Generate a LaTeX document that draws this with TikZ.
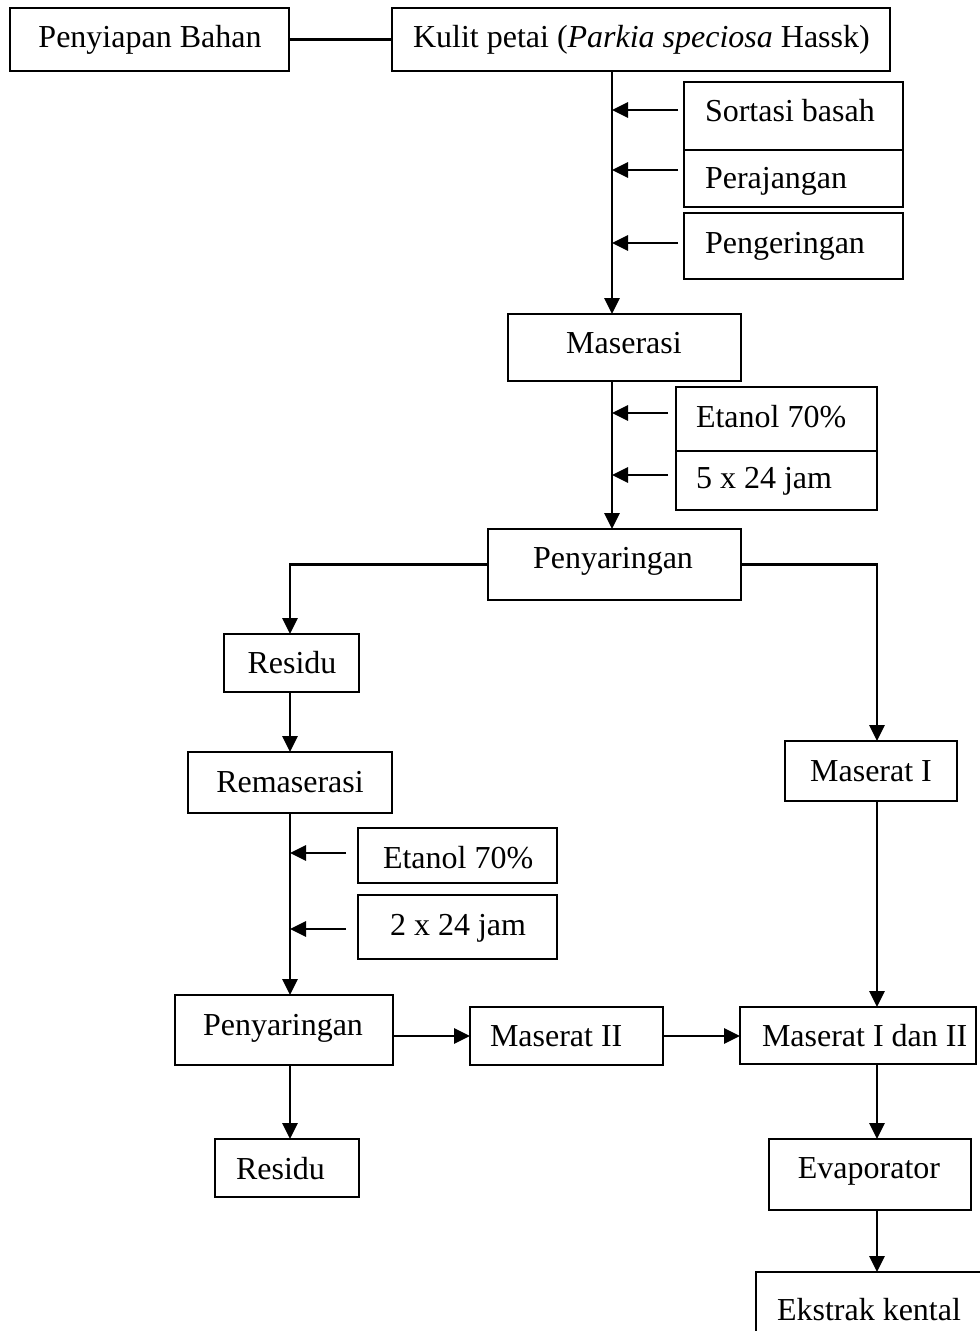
\documentclass[tikz,border=0pt]{standalone}
\usepackage{fontspec}
\setmainfont{Liberation Serif}
\usetikzlibrary{arrows.meta}
\tikzset{
  box/.style={draw, rectangle, line width=1.6pt, inner sep=0pt, outer sep=0pt},
  txt/.style={inner sep=0pt, outer sep=0pt, font=\fontsize{24pt}{28pt}\selectfont},
  conn/.style={line width=1.6pt},
  arr/.style={line width=1.6pt, -{Triangle[length=12pt,width=11.5pt]}}
}
\newcommand{\boxnode}[5]{%
  \node[box, anchor=north west, minimum width={(#4-#2)*0.75pt}, minimum height={(#5-#3)*0.75pt}] (#1) at (#2,#3) {};}
\begin{document}
\begin{tikzpicture}[x=0.75pt, y=-0.75pt]
\path[use as bounding box] (0,0) rectangle (980,1331);
\begin{scope}
\clip (0,0) rectangle (980,1331);
% boxes
\boxnode{pb}{10}{8}{289}{71}
\boxnode{kp}{392}{8}{890}{71}
\boxnode{sb}{684}{82}{903}{150}
\boxnode{pj}{684}{150}{903}{207}
\boxnode{pg}{684}{213}{903}{279}
\boxnode{mas}{508}{314}{741}{381}
\boxnode{etA}{676}{387}{877}{451}
\boxnode{jamA}{676}{451}{877}{510}
\boxnode{pny}{488}{529}{741}{600}
\boxnode{resA}{224}{634}{359}{692}
\boxnode{rem}{188}{752}{392}{813}
\boxnode{mi}{785}{741}{957}{801}
\boxnode{etB}{358}{828}{557}{883}
\boxnode{jamB}{358}{895}{557}{959}
\boxnode{pnyB}{175}{995}{393}{1065}
\boxnode{mii}{470}{1007}{663}{1065}
\boxnode{mboth}{740}{1007}{976}{1064}
\boxnode{resB}{215}{1139}{359}{1197}
\boxnode{evap}{769}{1139}{971}{1210}
\boxnode{ek}{756}{1272}{1000}{1360}
% texts
\node[txt, anchor=base] (tpb) at (150,48) {Penyiapan Bahan};
\node[txt, anchor=base west] (tkp) at (413,48) {Kulit petai (\textit{Parkia speciosa} Hassk)};
\node[txt, anchor=base west] (tsb) at (705,122) {Sortasi basah};
\node[txt, anchor=base west] (tpj) at (705,188) {Perajangan};
\node[txt, anchor=base west] (tpg) at (705,253) {Pengeringan};
\node[txt, anchor=base] (tmas) at (624,353) {Maserasi};
\node[txt, anchor=base west] (tetA) at (696,427) {Etanol 70\%};
\node[txt, anchor=base west] (tjamA) at (696,488) {5 x 24 jam};
\node[txt, anchor=base] (tpny) at (613,568) {Penyaringan};
\node[txt, anchor=base] (tresA) at (292,673) {Residu};
\node[txt, anchor=base] (trem) at (290,792) {Remaserasi};
\node[txt, anchor=base] (tmi) at (871,781) {Maserat I};
\node[txt, anchor=base west] (tetB) at (383,868) {Etanol 70\%};
\node[txt, anchor=base west] (tjamB) at (390,935) {2 x 24 jam};
\node[txt, anchor=base west] (tpnyB) at (203,1035) {Penyaringan};
\node[txt, anchor=base west] (tmii) at (490,1046) {Maserat II};
\node[txt, anchor=base west] (tmboth) at (762,1046) {Maserat I dan II};
\node[txt, anchor=base west] (tresB) at (236,1179) {Residu};
\node[txt, anchor=base] (tevap) at (869,1178) {Evaporator};
\node[txt, anchor=base west] (tek) at (777,1320) {Ekstrak kental};
% guide coordinates
\coordinate (vA) at (612,0);
\coordinate (vB) at (877,0);
\coordinate (vC) at (290,0);
\coordinate (aSb) at (678,110);
\coordinate (aPj) at (678,170);
\coordinate (aPg) at (678,243);
\coordinate (aEtA) at (668,413);
\coordinate (aJamA) at (668,475);
\coordinate (aEtB) at (346,853);
\coordinate (aJamB) at (346,929);
% connectors
\draw[conn] (pb.east) -- (kp.west);
\draw[arr] (kp.south -| vA) -- (mas.north -| vA);
\draw[arr] (aSb) -- (aSb -| vA);
\draw[arr] (aPj) -- (aPj -| vA);
\draw[arr] (aPg) -- (aPg -| vA);
\draw[arr] (mas.south -| vA) -- (pny.north -| vA);
\draw[arr] (aEtA) -- (aEtA -| vA);
\draw[arr] (aJamA) -- (aJamA -| vA);
\draw[arr] (pny.west) -| (resA.north -| vC);
\draw[arr] (pny.east) -| (mi.north -| vB);
\draw[arr] (resA.south -| vC) -- (rem.north -| vC);
\draw[arr] (rem.south -| vC) -- (pnyB.north -| vC);
\draw[arr] (aEtB) -- (aEtB -| vC);
\draw[arr] (aJamB) -- (aJamB -| vC);
\draw[arr] (pnyB.east |- mii.west) -- (mii.west);
\draw[arr] (mii.east) -- (mboth.west |- mii.east);
\draw[arr] (mi.south -| vB) -- (mboth.north -| vB);
\draw[arr] (pnyB.south -| vC) -- (resB.north -| vC);
\draw[arr] (mboth.south -| vB) -- (evap.north -| vB);
\draw[arr] (evap.south -| vB) -- (ek.north -| vB);
\end{scope}
\end{tikzpicture}
\end{document}
